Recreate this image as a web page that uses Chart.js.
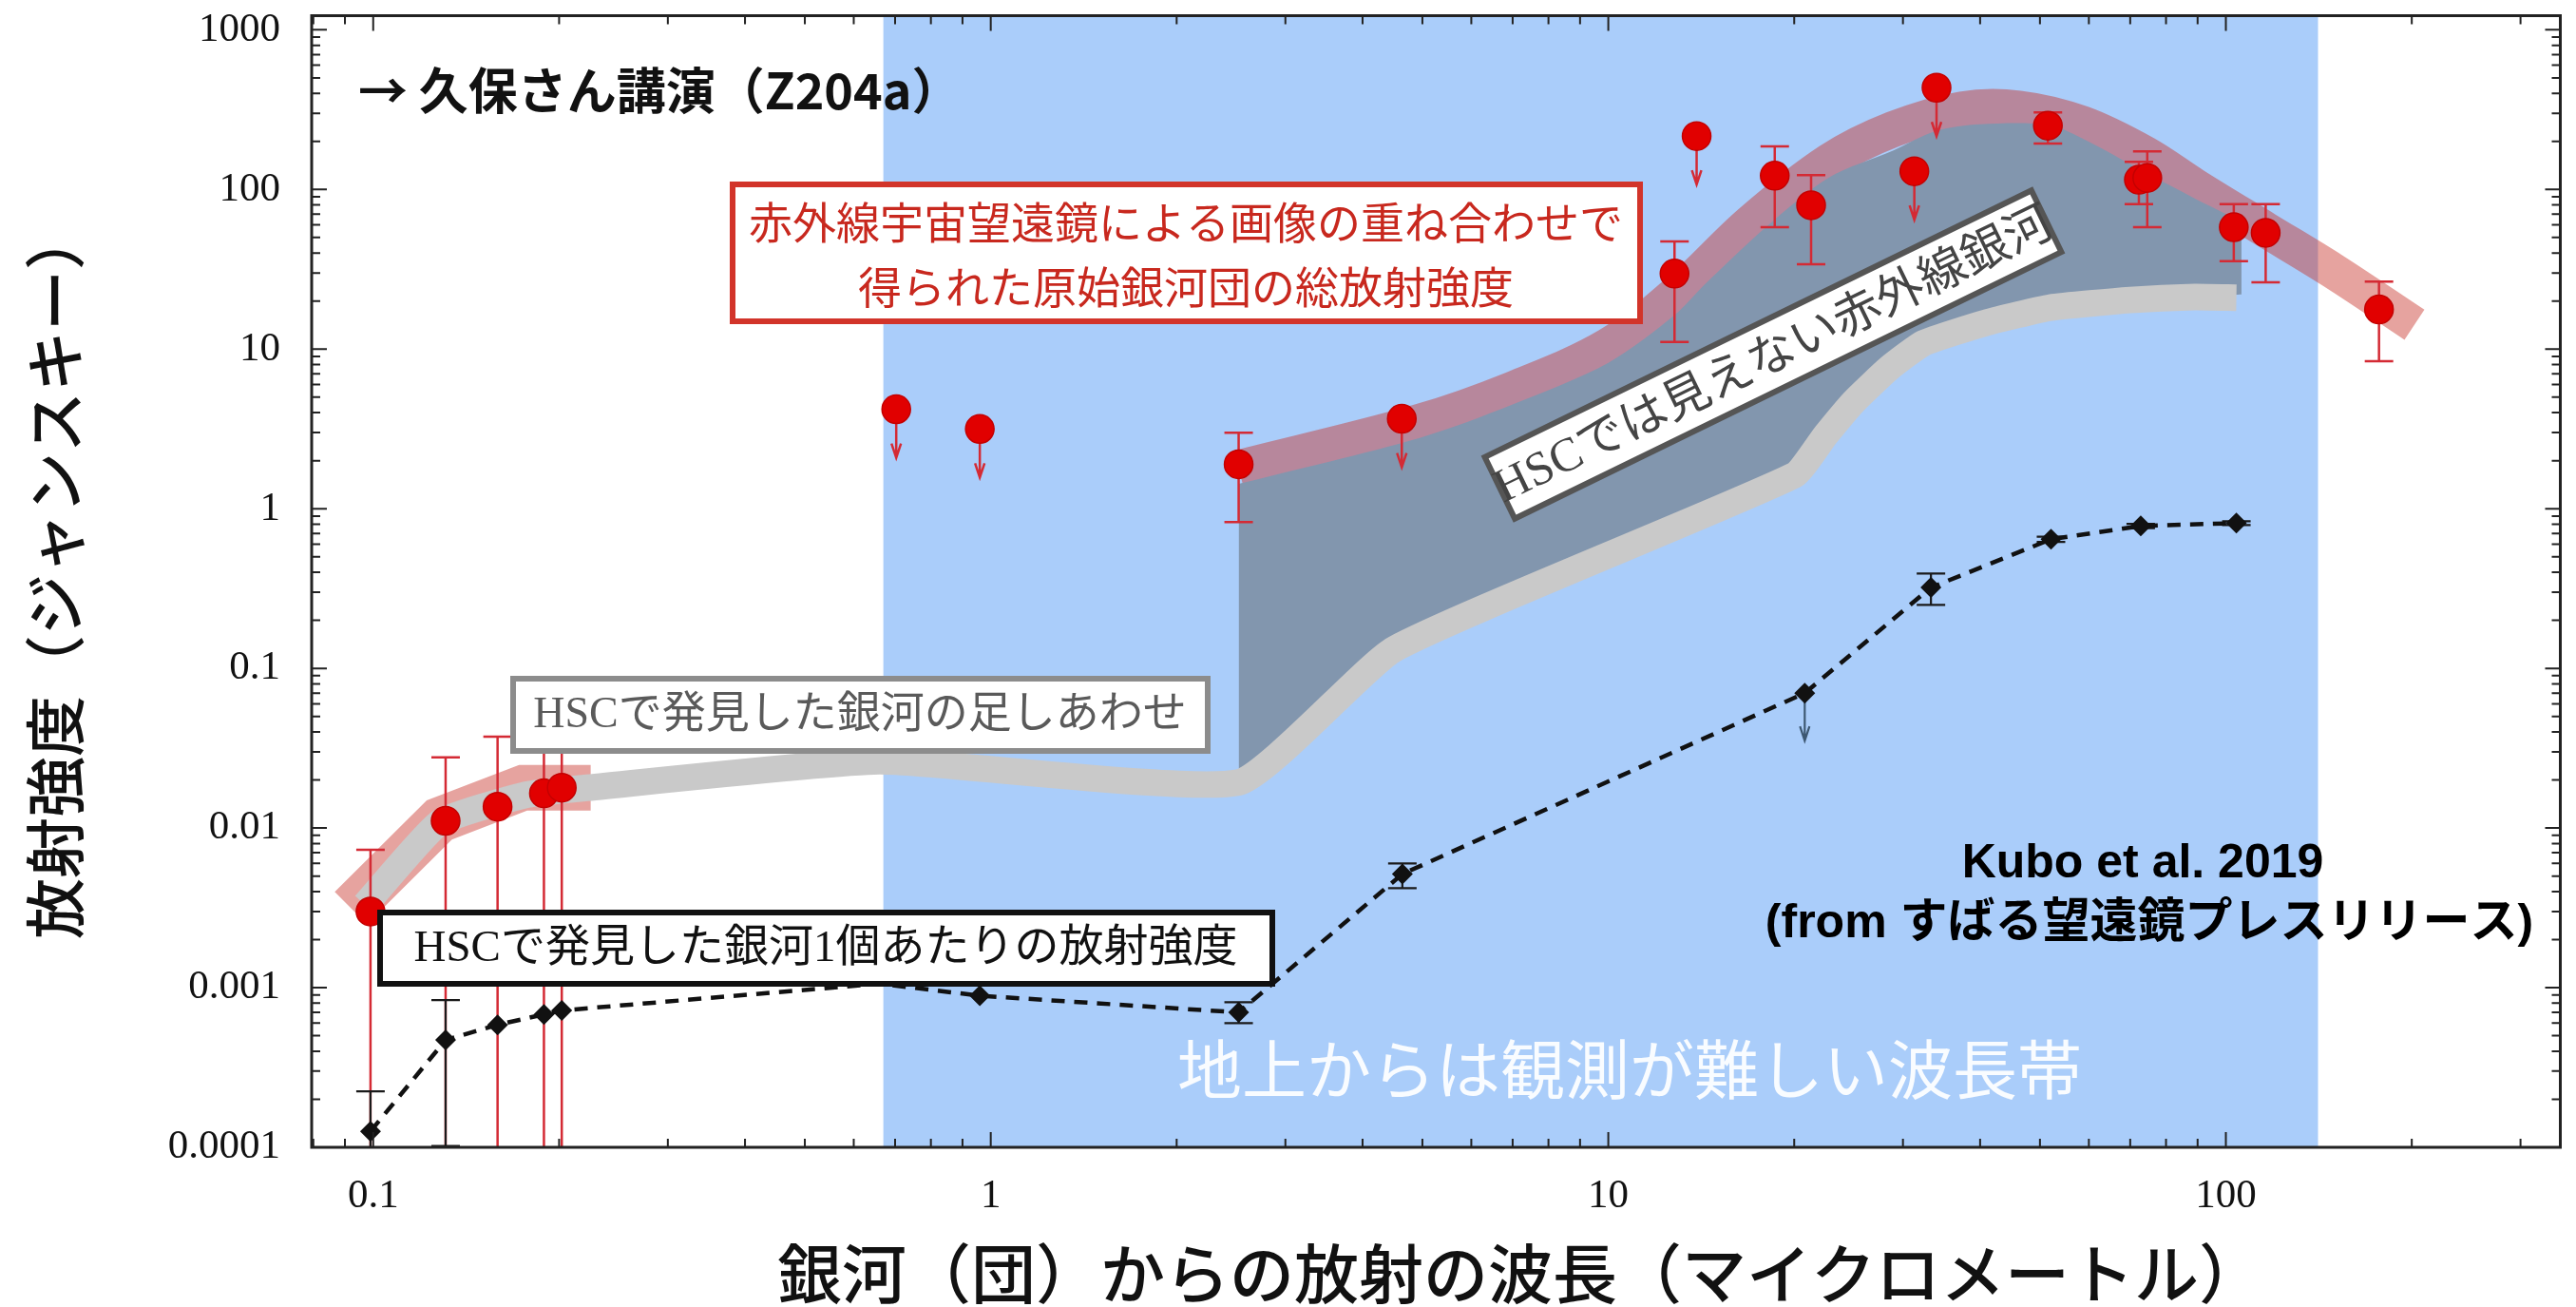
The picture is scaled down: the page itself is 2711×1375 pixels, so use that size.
<!DOCTYPE html>
<html>
<head>
<meta charset="utf-8">
<script src="https://cdn.jsdelivr.net/npm/chart.js@4.4.0/dist/chart.umd.min.js"></script>
<style>
  html, body { margin: 0; padding: 0; background: #fff; overflow: hidden; }
  #wrap { width: 2711px; height: 1375px; }
</style>
</head>
<body>
<div id="wrap"><canvas id="sed"></canvas></div>
<script>
// axis ranges (wavelength in micron, flux in Jy)
var xMin = 0.0795, xMax = 348;
var yMin = 1e-4, yMax = 1226;
var xTickVals = [0.1, 1, 10, 100];
var xTickLabels = ['0.1', '1', '10', '100'];
var yTickVals = [1e-4, 1e-3, 1e-2, 0.1, 1, 10, 100, 1000];
var yTickLabels = ['0.0001', '0.001', '0.01', '0.1', '1', '10', '100', '1000'];

// wavelengths that are hard to observe from the ground
var groundBand = [0.67, 141];

// HSC stack, flux per galaxy (black diamonds, dashed)
var hscX = [0.099, 0.131, 0.159, 0.189, 0.202, 0.66, 0.96, 2.52, 4.64, 20.8, 33.3, 52.1, 72.8, 104];
var hscY = [1.26e-4, 4.7e-4, 5.85e-4, 6.8e-4, 7.2e-4, 1.06e-3, 8.9e-4, 7.0e-4, 5.15e-3, 0.070, 0.321, 0.644, 0.780, 0.813];
var hscLo = [5e-5, 1.02e-4, null, null, null, null, null, 6.0e-4, 4.2e-3, null, 0.25, 0.62, 0.755, 0.79];
var hscHi = [2.24e-4, 8.35e-4, null, null, null, null, null, 8.1e-4, 6.0e-3, null, 0.393, 0.668, 0.805, 0.835];
var hscUpper = [false, false, false, false, false, false, false, false, false, true, false, false, false, false];
var hscMarker = [true, true, true, true, true, false, true, true, true, true, true, true, true, true];

// total flux of the protocluster from IR stacking (red circles)
var irX = [0.099, 0.131, 0.159, 0.189, 0.202, 2.52, 12.8, 18.6, 21.3, 51.5, 72.3, 74.6, 103, 116, 177];
var irY = [0.0030, 0.0111, 0.0136, 0.0165, 0.0179, 1.90, 29.7, 122, 79.6, 251, 115, 118, 58, 53.5, 17.7];
var irLo = [5e-5, 5e-5, 5e-5, 5e-5, 5e-5, 0.824, 11.1, 58, 34, 194, 80.8, 58, 35.5, 26.2, 8.4];
var irHi = [0.0073, 0.0277, 0.0374, 0.045, 0.045, 2.99, 47.3, 186, 123, 304, 149, 173, 80.8, 80.8, 26.5];
// upper limits
var irLimX = [0.703, 0.96, 4.63, 13.9, 31.3, 34.0];
var irLimY = [4.2, 3.16, 3.66, 216, 130, 434];

// sum of HSC galaxies (grey band)
var greyX = [0.097, 0.128, 0.175, 0.22, 0.66, 2.52, 4.5, 20, 22.5, 25, 28.5, 32.4, 40.8, 52, 70, 89, 104];
var greyY = [0.0033, 0.0108, 0.0160, 0.0178, 0.0262, 0.0193, 0.132, 1.62, 2.9, 4.7, 7.6, 10.9, 14.6, 18.2, 20.3, 21.2, 21];

// IR galaxies invisible to HSC (slate area)
var slateTopX = [2.52, 4.95, 7, 10, 12.8, 14.3, 18, 22.8, 28.9, 34, 40, 51.5, 58.5, 74, 89, 106];
var slateTopY = [1.43, 2.78, 4.5, 8.2, 16.3, 25.2, 58, 119, 175, 233, 256, 254, 209, 128, 88, 63];
var slateBotX = [2.52, 4.5, 20, 22.5, 25, 28.5, 32.4, 40.8, 52, 70, 89, 106];
var slateBotY = [0.0193, 0.132, 1.62, 2.9, 4.7, 7.6, 10.9, 14.6, 18.2, 20.3, 21.2, 22];

// total emission band (red)
var bandLX = [0.092, 0.128, 0.175, 0.225];
var bandLY = [0.00315, 0.01125, 0.0179, 0.0179];
var bandRX = [2.52, 4.95, 7, 10, 13, 17, 22.8, 28.9, 37.4, 46.2, 58.5, 74, 89, 116, 149, 202];
var bandRY = [1.8, 3.5, 5.6, 10.5, 23, 62, 150, 238, 317, 321, 258, 167, 105, 56, 31, 14.2];

var xTitle = '銀河（団）からの放射の波長（マイクロメートル）';
var yTitle = '放射強度（ジャンスキー）';

function pts(xs, ys) {
  return xs.map(function(x, i) { return {x: x, y: ys[i]}; });
}

var bandColor = 'rgba(200,50,42,0.45)';

function arrowDown(ctx, px, py, len) {
  ctx.beginPath();
  ctx.moveTo(px, py);
  ctx.lineTo(px, py + len);
  ctx.moveTo(px - 5, py + len - 15);
  ctx.lineTo(px, py + len);
  ctx.lineTo(px + 5, py + len - 15);
  ctx.stroke();
}

function drawErr(ctx, xs, ys, X, lo, hi, color, lw, cap) {
  ctx.strokeStyle = color;
  ctx.lineWidth = lw;
  X.forEach(function(x, i) {
    if (lo[i] == null) return;
    var px = xs.getPixelForValue(x);
    var p1 = ys.getPixelForValue(lo[i]);
    var p2 = ys.getPixelForValue(hi[i]);
    ctx.beginPath();
    ctx.moveTo(px, p1); ctx.lineTo(px, p2);
    if (lo[i] >= yMin) { ctx.moveTo(px - cap, p1); ctx.lineTo(px + cap, p1); }
    ctx.moveTo(px - cap, p2); ctx.lineTo(px + cap, p2);
    ctx.stroke();
  });
}

// error bars and upper-limit arrows go under their markers
var errPlugin = {
  id: 'errbars',
  beforeDatasetDraw: function(chart, args) {
    var ctx = chart.ctx, xs = chart.scales.x, ys = chart.scales.y, a = chart.chartArea;
    ctx.save();
    ctx.beginPath();
    ctx.rect(a.left, a.top, a.right - a.left, a.bottom - a.top);
    ctx.clip();
    if (args.index === 1) {
      drawErr(ctx, xs, ys, irX, irLo, irHi, '#d42a34', 2.5, 15);
    }
    if (args.index === 2) {
      ctx.strokeStyle = '#d42a34';
      ctx.lineWidth = 2.5;
      irLimX.forEach(function(x, i) {
        arrowDown(ctx, xs.getPixelForValue(x), ys.getPixelForValue(irLimY[i]), 51);
      });
    }
    if (args.index === 0) {
      drawErr(ctx, xs, ys, hscX, hscLo, hscHi, '#1a1a1a', 2.2, 15);
      ctx.strokeStyle = '#3d5872';
      ctx.lineWidth = 2.2;
      hscX.forEach(function(x, i) {
        if (hscUpper[i]) arrowDown(ctx, xs.getPixelForValue(x), ys.getPixelForValue(hscY[i]), 50);
      });
    }
    ctx.restore();
  }
};

// blue band, frame and inward ticks
var framePlugin = {
  id: 'frame',
  beforeDatasetsDraw: function(chart) {
    var ctx = chart.ctx, a = chart.chartArea, xs = chart.scales.x;
    var l = xs.getPixelForValue(groundBand[0]), r = xs.getPixelForValue(groundBand[1]);
    ctx.save();
    ctx.fillStyle = '#aacdfa';
    ctx.fillRect(l, a.top, r - l, a.bottom - a.top);
    ctx.restore();
  },
  afterDatasetsDraw: function(chart) {
    var ctx = chart.ctx, a = chart.chartArea, xs = chart.scales.x, ys = chart.scales.y;
    ctx.save();
    ctx.strokeStyle = '#222';
    ctx.lineWidth = 2;
    ctx.beginPath();
    for (var e = -5; e <= 3; e++) {
      for (var k = 1; k <= 9; k++) {
        var v = k * Math.pow(10, e);
        var len = k === 1 ? 16 : 9;
        if (v >= yMin * 0.999 && v <= yMax) {
          var py = ys.getPixelForValue(v);
          ctx.moveTo(a.left, py); ctx.lineTo(a.left + len, py);
          ctx.moveTo(a.right, py); ctx.lineTo(a.right - len, py);
        }
        if (v >= xMin && v <= xMax) {
          var px = xs.getPixelForValue(v);
          ctx.moveTo(px, a.bottom); ctx.lineTo(px, a.bottom - len);
          ctx.moveTo(px, a.top); ctx.lineTo(px, a.top + len);
        }
      }
    }
    ctx.stroke();
    ctx.lineWidth = 3;
    ctx.strokeRect(a.left, a.top, a.right - a.left, a.bottom - a.top);
    ctx.restore();
  }
};

function box(ctx, x, y, w, h, stroke, lw) {
  ctx.fillStyle = '#fff';
  ctx.fillRect(x, y, w, h);
  ctx.lineWidth = lw;
  ctx.strokeStyle = stroke;
  ctx.strokeRect(x, y, w, h);
}

var textPlugin = {
  id: 'texts',
  afterDraw: function(chart) {
    var ctx = chart.ctx;
    ctx.save();
    ctx.textBaseline = 'middle';

    // axis titles
    ctx.fillStyle = '#111';
    ctx.textAlign = 'left';
    ctx.font = "500 68px 'Noto Sans CJK JP'";
    ctx.fillText(xTitle, 818, 1340);
    ctx.save();
    ctx.translate(58, 988);
    ctx.rotate(-Math.PI / 2);
    ctx.font = "500 64px 'Noto Sans CJK JP'";
    ctx.fillText(yTitle, 0, 0);
    ctx.restore();

    // talk reference
    ctx.font = "bold 52px 'Noto Sans CJK JP'";
    ctx.fillText('→ 久保さん講演（Z204a）', 377, 95);

    // red box
    ctx.textAlign = 'center';
    box(ctx, 771, 194, 955, 144, '#d2342a', 6);
    ctx.fillStyle = '#c8281e';
    ctx.font = "46px 'Noto Sans CJK JP'";
    ctx.fillText('赤外線宇宙望遠鏡による画像の重ね合わせで', 1248, 234);
    ctx.fillText('得られた原始銀河団の総放射強度', 1248, 302);

    // grey box
    box(ctx, 540, 714, 731, 76, '#8c8c8c', 6);
    ctx.fillStyle = '#5a5a5a';
    ctx.font = "46px 'Liberation Serif', 'Noto Sans CJK JP'";
    ctx.fillText('HSCで発見した銀河の足しあわせ', 905, 753);

    // black box
    box(ctx, 400, 960, 939, 75, '#111', 6);
    ctx.fillStyle = '#111';
    ctx.font = "47px 'Liberation Serif', 'Noto Sans CJK JP'";
    ctx.fillText('HSCで発見した銀河1個あたりの放射強度', 869, 999);

    // rotated box
    ctx.save();
    ctx.translate(1866, 373);
    ctx.rotate(-26 * Math.PI / 180);
    box(ctx, -320, -36, 640, 72, '#555', 6);
    ctx.fillStyle = '#444';
    ctx.font = "50px 'Liberation Serif', 'Noto Sans CJK JP'";
    ctx.fillText('HSCでは見えない赤外線銀河', 0, 3);
    ctx.restore();

    // ground-based band note
    ctx.fillStyle = 'rgba(255,255,255,0.93)';
    ctx.font = "68px 'Noto Sans CJK JP'";
    ctx.fillText('地上からは観測が難しい波長帯', 1715, 1125);

    // credit
    ctx.fillStyle = '#000';
    ctx.font = "bold 50px 'Liberation Sans', 'Noto Sans CJK JP'";
    ctx.fillText('Kubo et al. 2019', 2255, 909);
    ctx.fillText('(from すばる望遠鏡プレスリリース)', 2262, 972);
    ctx.restore();
  }
};

var tickFont = {family: "'Liberation Serif', serif", size: 43};

new Chart(document.getElementById('sed'), {
  type: 'scatter',
  data: {
    datasets: [
      { // 0 HSC per galaxy
        data: pts(hscX, hscY), showLine: true, order: 0,
        borderColor: '#111', borderWidth: 4.5, borderDash: [14, 10], tension: 0,
        pointStyle: 'rectRot', pointRadius: hscMarker.map(function(m) { return m ? 11 : 0; }),
        pointBackgroundColor: '#111', pointBorderColor: '#111', pointBorderWidth: 0
      },
      { // 1 IR detections
        data: pts(irX, irY), showLine: false, order: 1,
        pointStyle: 'circle', pointRadius: 15,
        pointBackgroundColor: '#e10000', pointBorderColor: '#c40000', pointBorderWidth: 1.5
      },
      { // 2 IR upper limits
        data: pts(irLimX, irLimY), showLine: false, order: 1,
        pointStyle: 'circle', pointRadius: 15,
        pointBackgroundColor: '#e10000', pointBorderColor: '#c40000', pointBorderWidth: 1.5
      },
      { // 3 grey band
        data: pts(greyX, greyY), showLine: true, order: 3,
        borderColor: '#c9c9c9', borderWidth: 28, tension: 0.15,
        borderCapStyle: 'butt', borderJoinStyle: 'miter', pointRadius: 0
      },
      { // 4 slate area top
        data: pts(slateTopX, slateTopY), showLine: true, order: 4,
        borderWidth: 0, borderColor: 'transparent', tension: 0.3, pointRadius: 0,
        fill: 5, backgroundColor: '#8296ae'
      },
      { // 5 slate area bottom
        data: pts(slateBotX, slateBotY), showLine: true, order: 4,
        borderWidth: 0, borderColor: 'transparent', tension: 0.15, pointRadius: 0, fill: false
      },
      { // 6 red band, optical side
        data: pts(bandLX, bandLY), showLine: true, order: 5,
        borderColor: bandColor, borderWidth: 48, tension: 0,
        borderCapStyle: 'butt', borderJoinStyle: 'miter', pointRadius: 0
      },
      { // 7 red band, infrared side
        data: pts(bandRX, bandRY), showLine: true, order: 5,
        borderColor: bandColor, borderWidth: 38, tension: 0.35,
        borderCapStyle: 'butt', borderJoinStyle: 'round', pointRadius: 0
      }
    ]
  },
  options: {
    responsive: true,
    maintainAspectRatio: false,
    animation: false,
    devicePixelRatio: 1,
    events: [],
    layout: { padding: {left: 0, right: 5, top: 14, bottom: 0} },
    plugins: { legend: {display: false}, tooltip: {enabled: false} },
    scales: {
      x: {
        type: 'logarithmic', position: 'bottom', min: xMin, max: xMax,
        afterBuildTicks: function(s) { s.ticks = xTickVals.map(function(v) { return {value: v}; }); },
        afterFit: function(s) { s.height = 168; s.paddingLeft = 0; s.paddingRight = 0; },
        grid: {display: false, drawTicks: false},
        border: {display: false},
        ticks: {
          padding: 26, font: tickFont, color: '#111', maxRotation: 0, autoSkip: false,
          callback: function(v, i) { return xTickLabels[i]; }
        }
      },
      y: {
        type: 'logarithmic', position: 'left', min: yMin, max: yMax,
        afterBuildTicks: function(s) { s.ticks = yTickVals.map(function(v) { return {value: v}; }); },
        afterFit: function(s) { s.width = 328; s.paddingTop = 0; s.paddingBottom = 0; },
        grid: {display: false, drawTicks: false},
        border: {display: false},
        ticks: {
          padding: 33, font: tickFont, color: '#111', autoSkip: false,
          callback: function(v, i) { return yTickLabels[i]; }
        }
      }
    }
  },
  plugins: [framePlugin, errPlugin, textPlugin]
});
</script>
</body>
</html>
